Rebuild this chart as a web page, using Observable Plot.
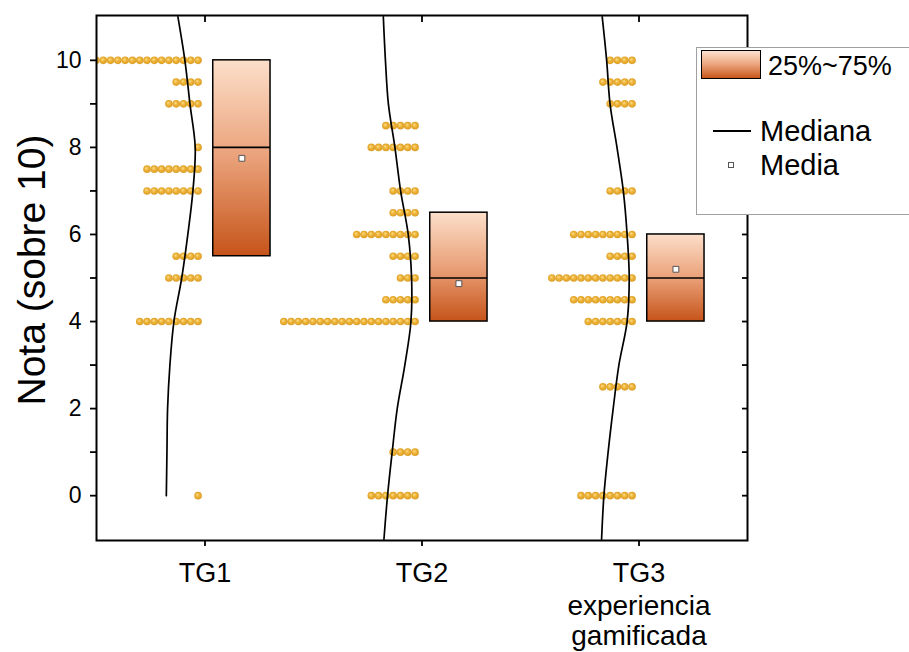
<!DOCTYPE html>
<html><head><meta charset="utf-8">
<script src="https://cdn.jsdelivr.net/npm/d3@7"></script>
<script src="https://cdn.jsdelivr.net/npm/@observablehq/plot@0.6"></script>
<style>
body{margin:0;background:#fff;font-family:"Liberation Sans",Arial,sans-serif;}
#wrap{position:relative;width:909px;height:652px;overflow:hidden;}
#legend{position:absolute;left:696px;top:47px;width:220px;height:168px;background:#fff;border:1px solid #a0a0a0;box-sizing:border-box;}
#legend .sw{position:absolute;left:4px;top:2px;width:60px;height:29px;box-sizing:border-box;border:1.5px solid #000;background:linear-gradient(to bottom,#FCE1CE,#EBA47C 50%,#C7561B);}
#legend .t{position:absolute;font-size:29px;line-height:32px;transform:translateY(-50%);white-space:nowrap;color:#000;}
#legend .ln{position:absolute;left:16px;top:82px;width:38px;height:0;border-top:2px solid #000;}
#legend .sq{position:absolute;left:31px;top:114px;width:6px;height:6px;box-sizing:border-box;border:1px solid #555;background:#fff;}
</style></head><body>
<div id="wrap"><div id="legend">
<div class="sw"></div><span class="t" style="left:71px;top:18px;font-size:27px">25%~75%</span>
<div class="ln"></div><span class="t" style="left:63px;top:83px">Mediana</span>
<div class="sq"></div><span class="t" style="left:63px;top:117px">Media</span>
</div></div>
<script>
// ---- data ----
const groups = ["TG1", "TG2", "TG3"];
const groupNotes = ["", "", "experiencia\ngamificada"];
const yTicks = [0,1,2,3,4,5,6,7,8,9,10];

const tg1Notas  = [0, 4, 5, 5.5, 7, 7.5, 8, 9, 9.5, 10];
const tg1Counts = [1, 9, 5, 4,   8, 8,   1, 5, 4,   26];
const tg2Notas  = [0, 1, 4,  4.5, 5, 5.5, 6, 6.5, 7, 8, 8.5];
const tg2Counts = [7, 4, 19, 5,   3, 4,   9, 4,   4, 7, 5];
const tg3Notas  = [0, 2.5, 4, 4.5, 5,  5.5, 6, 7, 9, 9.5, 10];
const tg3Counts = [8, 5,   7, 9,   12, 4,   9, 4, 4, 5,   4];

const q1       = [5.5, 4,   4];
const medianas = [8,   5,   5];
const q3       = [10,  6.5, 6];
const medias   = [7.75, 4.87, 5.2];

// normal distribution curves (density read at each nota)
const curveNotas = [-1, 0, 1, 2, 3, 4, 5, 6, 7, 8, 9, 10, 11];
const tg1Curve = [null, 0.009, 0.012, 0.015, 0.026, 0.045, 0.082, 0.111, 0.135, 0.146, 0.121, 0.097, 0.064];
const tg2Curve = [0.012, 0.029, 0.051, 0.075, 0.111, 0.140, 0.143, 0.127, 0.091, 0.064, 0.033, 0.019, 0.009];
const tg3Curve = [0.015, 0.026, 0.046, 0.070, 0.097, 0.136, 0.146, 0.136, 0.118, 0.088, 0.055, 0.039, 0.018];

// ---- layout constants (x units, group spacing = 1) ----
const DOT_END = -0.032, DOT_STEP = 0.0336;
const BOX_X1 = 0.038, BOX_X2 = 0.302;
const CURVE_BASE = -0.187, CURVE_SCALE = 0.972;

const dotRows = [];
[[tg1Notas, tg1Counts], [tg2Notas, tg2Counts], [tg3Notas, tg3Counts]].forEach(([notas, counts], gi) =>
  notas.forEach((n, k) => { for (let i = 0; i < counts[k]; i++) dotRows.push({g: gi + 1, nota: n, i}); }));

const boxes = groups.map((name, k) => ({g: k + 1, q1: q1[k], med: medianas[k], q3: q3[k], mean: medias[k]}));

const curves = [];
[tg1Curve, tg2Curve, tg3Curve].forEach((arr, gi) => arr.forEach((d, k) => {
  if (d != null) curves.push({g: gi + 1, nota: curveNotas[k], d});
}));

const notes = groupNotes.map((t, k) => ({g: k + 1, t})).filter(d => d.t);

const chart = Plot.plot({
  width: 909, height: 652,
  marginLeft: 96, marginRight: 162, marginTop: 15, marginBottom: 112,
  style: {fontFamily: '"Liberation Sans", Arial, sans-serif', color: "#000", background: "transparent", overflow: "visible"},
  x: {domain: [0.5, 3.5]},
  y: {domain: [-1.03, 11.03]},
  marks: [
    Plot.dot(dotRows, {x: d => d.g + DOT_END - d.i * DOT_STEP, y: "nota", r: 3.8, fill: "url(#ballGrad)", stroke: "none", clip: "frame"}),
    Plot.line(curves, {x: d => d.g + CURVE_BASE + d.d * CURVE_SCALE, y: "nota", z: "g", curve: "catmull-rom", stroke: "black", strokeWidth: 1.7, clip: "frame"}),
    Plot.rect(boxes, {x1: d => d.g + BOX_X1, x2: d => d.g + BOX_X2, y1: "q1", y2: "q3", fill: "url(#boxGrad)", stroke: "black", strokeWidth: 1.5}),
    Plot.ruleY(boxes, {x1: d => d.g + BOX_X1, x2: d => d.g + BOX_X2, y: "med", stroke: "black", strokeWidth: 1.6}),
    Plot.dot(boxes, {x: d => d.g + (BOX_X1 + BOX_X2) / 2, y: "mean", symbol: "square", r: 3.3, fill: "white", stroke: "#555", strokeWidth: 1}),
    Plot.axisY({anchor: "left", ticks: yTicks, tickSize: 6, tickPadding: 9, strokeWidth: 1.8, tickFormat: d => d % 2 === 0 ? String(d) : "", fontSize: 23, label: null}),
    Plot.axisY({anchor: "right", ticks: yTicks, tickSize: 6, dx: -6, strokeWidth: 1.8, tickFormat: () => "", label: null}),
    Plot.axisX({anchor: "bottom", ticks: [1, 2, 3], tickSize: 6, tickPadding: 16, strokeWidth: 1.8, tickFormat: d => groups[d - 1], fontSize: 27, label: null}),
    Plot.axisX({anchor: "top", ticks: [1, 2, 3], tickSize: 6, dy: 6, strokeWidth: 1.8, tickFormat: () => "", label: null}),
    Plot.text(notes, {x: "g", text: "t", frameAnchor: "bottom", lineAnchor: "top", dy: 54, fontSize: 28, lineHeight: 1.05}),
    Plot.text(["Nota (sobre 10)"], {frameAnchor: "left", rotate: -90, dx: -64, dy: -8, fontSize: 39, textAnchor: "middle"}),
    Plot.frame({stroke: "black", strokeWidth: 2})
  ]
});

const defs = document.createElementNS("http://www.w3.org/2000/svg", "defs");
defs.innerHTML = `
<linearGradient id="boxGrad" x1="0" y1="0" x2="0" y2="1">
  <stop offset="0" stop-color="#FCDFCA"/><stop offset="0.5" stop-color="#EAA179"/><stop offset="1" stop-color="#C6541A"/>
</linearGradient>
<radialGradient id="ballGrad" cx="0.5" cy="0.5" r="0.55" fx="0.38" fy="0.35">
  <stop offset="0" stop-color="#FCE08C"/><stop offset="0.45" stop-color="#EEB43A"/><stop offset="1" stop-color="#D99A22"/>
</radialGradient>`;
chart.insertBefore(defs, chart.firstChild);
const wrap = document.getElementById("wrap");
wrap.insertBefore(chart, wrap.firstChild);
</script>
</body></html>
